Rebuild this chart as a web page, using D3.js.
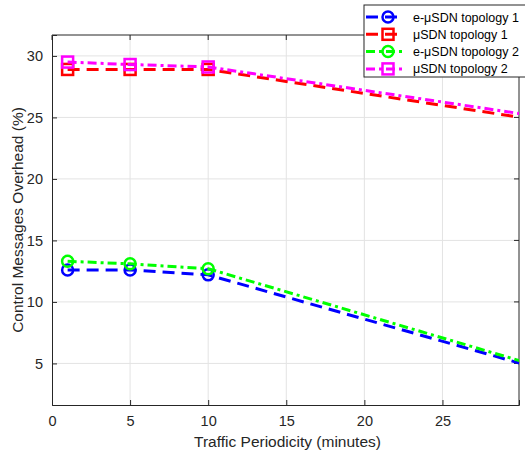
<!DOCTYPE html>
<html><head><meta charset="utf-8">
<script src="https://cdn.jsdelivr.net/npm/d3@7"></script>
<style>body{margin:0;background:#fff;} text{font-family:"Liberation Sans",Arial,sans-serif;}</style>
</head><body><svg id="c" width="525" height="456"></svg>
<script>
const periods = [1, 5, 10, 30];
const seriesNames = ["e-μSDN topology 1", "μSDN topology 1", "e-μSDN topology 2", "μSDN topology 2"];
const eTopo1 = [12.6, 12.6, 12.2, 5.0];
const uTopo1 = [28.9, 28.9, 28.9, 25.0];
const eTopo2 = [13.3, 13.1, 12.7, 5.2];
const uTopo2 = [29.5, 29.3, 29.1, 25.3];
const xTicks = [0, 5, 10, 15, 20, 25];
const yTicks = [5, 10, 15, 20, 25, 30];

const styles = [
  {color:"#0000ff", dash:"12,7", marker:"circle"},
  {color:"#ff0000", dash:"12,7", marker:"square"},
  {color:"#00ff00", dash:"9,4,3,4", marker:"circle"},
  {color:"#ff00ff", dash:"9,4,3,4", marker:"square"}
];
const allSeries = [eTopo1, uTopo1, eTopo2, uTopo2];

const svg = d3.select("#c");
const L = 52, R = 519, T = 35, B = 405;
const x = d3.scaleLinear().domain([0, 29.9]).range([L, R]);
const y = d3.scaleLinear().domain([1.62, 31.7]).range([B, T]);

svg.append("defs").append("clipPath").attr("id","clip")
  .append("rect").attr("x",L).attr("y",T).attr("width",R-L).attr("height",B-T);

// grid
const g = svg.append("g");
g.selectAll(".gx").data(xTicks.slice(1)).enter().append("line")
  .attr("x1",d=>x(d)).attr("x2",d=>x(d)).attr("y1",T).attr("y2",B)
  .attr("stroke","#e3e3e3").attr("stroke-width",1);
g.selectAll(".gy").data(yTicks).enter().append("line")
  .attr("x1",L).attr("x2",R).attr("y1",d=>y(d)).attr("y2",d=>y(d))
  .attr("stroke","#e3e3e3").attr("stroke-width",1);

// axes
const xAxis = d3.axisBottom(x).tickValues(xTicks).tickSize(-5).tickPadding(11);
const yAxis = d3.axisLeft(y).tickValues(yTicks).tickSize(-5).tickPadding(9);
const gx = svg.append("g").attr("transform",`translate(0,${B})`).call(xAxis);
const gy = svg.append("g").attr("transform",`translate(${L},0)`).call(yAxis);
[gx, gy].forEach(a=>{
  a.select(".domain").attr("stroke","#262626");
  a.selectAll(".tick line").attr("stroke","#262626");
  a.selectAll("text").attr("fill","#262626").attr("font-size","14.5px").attr("font-family","Liberation Sans, Arial, sans-serif");
});
// top and right box lines
svg.append("line").attr("x1",L).attr("x2",R).attr("y1",T).attr("y2",T).attr("stroke","#262626");
svg.append("line").attr("x1",R).attr("x2",R).attr("y1",T).attr("y2",B).attr("stroke","#262626");
// right/top ticks
svg.selectAll(".ry").data(yTicks).enter().append("line")
  .attr("x1",R).attr("x2",R-5).attr("y1",d=>y(d)).attr("y2",d=>y(d)).attr("stroke","#262626");
svg.selectAll(".tx").data(xTicks).enter().append("line")
  .attr("x1",d=>x(d)).attr("x2",d=>x(d)).attr("y1",T).attr("y2",T+5).attr("stroke","#262626");

// series
const line = d3.line().x(d=>x(d[0])).y(d=>y(d[1]));
const plot = svg.append("g").attr("clip-path","url(#clip)");
function drawMarker(sel, type, color, cx, cy){
  if(type==="circle"){
    sel.append("circle").attr("cx",cx).attr("cy",cy).attr("r",5.5)
      .attr("fill","none").attr("stroke",color).attr("stroke-width",2.5);
  } else {
    sel.append("rect").attr("x",cx-5.5).attr("y",cy-5.5).attr("width",11).attr("height",11)
      .attr("fill","none").attr("stroke",color).attr("stroke-width",2.5);
  }
}
allSeries.forEach((vals,i)=>{
  const pts = periods.map((p,j)=>[p, vals[j]]);
  const s = styles[i];
  plot.append("path").attr("d",line(pts)).attr("fill","none")
    .attr("stroke",s.color).attr("stroke-width",3).attr("stroke-dasharray",s.dash);
  pts.filter(p=>p[0] < x.domain()[1]).forEach(p=>drawMarker(plot, s.marker, s.color, x(p[0]), y(p[1])));
});

// labels
svg.append("text").attr("x",(L+R)/2 + 2).attr("y",447).attr("text-anchor","middle")
  .attr("font-size","15.5px").attr("fill","#262626").text("Traffic Periodicity (minutes)");
svg.append("text").attr("transform",`translate(23,${(T+B)/2}) rotate(-90)`).attr("text-anchor","middle")
  .attr("font-size","15.5px").attr("fill","#262626").text("Control Messages Overhead (%)");

// legend
const lg = svg.append("g");
lg.append("rect").attr("x",364).attr("y",5).attr("width",170).attr("height",72)
  .attr("fill","#fff").attr("stroke","#262626").attr("stroke-width",1);
seriesNames.forEach((n,i)=>{
  const cy = 17 + i*17.3;
  const s = styles[i];
  lg.append("line").attr("x1",366).attr("x2",404).attr("y1",cy).attr("y2",cy)
    .attr("stroke",s.color).attr("stroke-width",3).attr("stroke-dasharray",s.dash);
  drawMarker(lg, s.marker, s.color, 388, cy);
  lg.append("text").attr("x",413).attr("y",cy+4.5).attr("font-size","12.5px").attr("fill","#000").text(n);
});
</script></body></html>
